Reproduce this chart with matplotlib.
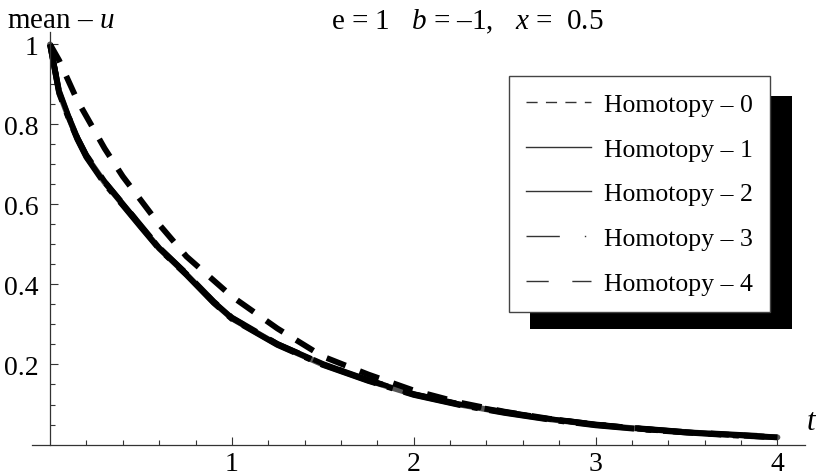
import matplotlib
matplotlib.use("Agg")
import matplotlib.pyplot as plt
from matplotlib.lines import Line2D
from matplotlib.patches import Rectangle

plt.rcParams['font.family'] = ['Liberation Serif', 'DejaVu Serif']
plt.rcParams['mathtext.fontset'] = 'custom'
plt.rcParams['mathtext.rm'] = 'Liberation Serif'
plt.rcParams['mathtext.it'] = 'Liberation Serif:italic'

# values
t = [0, 0.05, 0.1, 0.15, 0.2, 0.3, 0.4, 0.5, 0.6, 0.75, 0.9, 1.0,
     1.25, 1.5, 1.75, 2.0, 2.25, 2.5, 2.75, 3.0, 3.25, 3.5, 3.75, 4.0]
h0 = [1.0, 0.96, 0.91, 0.86, 0.82, 0.74, 0.67, 0.61, 0.55, 0.47, 0.41, 0.37,
      0.29, 0.22, 0.175, 0.135, 0.105, 0.082, 0.064, 0.05, 0.039, 0.03, 0.024, 0.018]
h1 = [1.0, 0.88, 0.82, 0.765, 0.72, 0.655, 0.6, 0.545, 0.49, 0.425, 0.355, 0.315,
      0.25, 0.2, 0.16, 0.125, 0.1, 0.08, 0.063, 0.049, 0.039, 0.031, 0.024, 0.018]
h2 = [1.0, 0.885, 0.823, 0.768, 0.724, 0.658, 0.603, 0.548, 0.493, 0.428, 0.358, 0.318,
      0.252, 0.202, 0.161, 0.126, 0.101, 0.081, 0.064, 0.05, 0.04, 0.031, 0.024, 0.018]
h3 = [1.0, 0.878, 0.818, 0.763, 0.718, 0.652, 0.598, 0.543, 0.489, 0.424, 0.354, 0.314,
      0.249, 0.199, 0.159, 0.124, 0.099, 0.079, 0.062, 0.048, 0.038, 0.03, 0.023, 0.018]
h4 = [1.0, 0.882, 0.821, 0.766, 0.721, 0.656, 0.601, 0.546, 0.491, 0.426, 0.356, 0.316,
      0.251, 0.201, 0.161, 0.126, 0.101, 0.081, 0.064, 0.05, 0.04, 0.031, 0.025, 0.019]
labels = ["Homotopy – 0", "Homotopy – 1", "Homotopy – 2", "Homotopy – 3", "Homotopy – 4"]

fig = plt.figure(figsize=(8.17, 4.77), dpi=100)
ax = fig.add_axes([0.039, 0.066, 0.946, 0.864])

ax.plot(t, h1, color='#555555', lw=4.2, solid_capstyle='round')
ax.plot(t, h2, color='black', lw=3.8, dashes=(6, 3))
ax.plot(t, h3, color='black', lw=4.2, dashes=(10, 2, 1, 2))
ax.plot(t, h4, color='black', lw=4.2, dashes=(8, 5))
ax.plot(t, h0, color='black', lw=4.2, dashes=(3.5, 2.6))

ax.set_xlim(-0.1, 4.15)
ax.set_ylim(0, 1.03)
ax.spines['left'].set_position(('data', 0))
ax.spines['bottom'].set_position(('data', 0))
ax.spines['top'].set_visible(False)
ax.spines['right'].set_visible(False)
for s in ('left', 'bottom'):
    ax.spines[s].set_color('#333333')
    ax.spines[s].set_linewidth(0.9)
ax.spines['left'].set_bounds(0, 1.03)

ax.set_xticks([1, 2, 3, 4])
ax.set_xticks([x / 5 for x in range(1, 21) if x % 5], minor=True)
ax.set_yticks([0.2, 0.4, 0.6, 0.8, 1.0])
ax.set_yticklabels(["0.2", "0.4", "0.6", "0.8", "1"])
ax.set_yticks([y / 20 for y in range(1, 21) if y % 4], minor=True)
ax.tick_params(which='both', direction='in', color='#333333', width=0.8)
ax.tick_params(which='major', length=6, labelsize=20)
ax.tick_params(which='minor', length=3.5)
ax.tick_params(axis='x', pad=5)
ax.tick_params(axis='y', pad=8)

fig.text(0.008, 0.955, r"mean – $u$", fontsize=21, va='center', ha='left')
fig.text(0.405, 0.955, r"e = 1   $b$ = –1,   $x$ =  0.5", fontsize=21, va='center', ha='left')
fig.text(1.0, 0.115, r"$t$", fontsize=22, va='center', ha='right')

handles = [
    Line2D([], [], color='#333333', lw=1, dashes=(8, 6)),
    Line2D([], [], color='#333333', lw=1),
    Line2D([], [], color='#333333', lw=1),
    Line2D([], [], color='#333333', lw=1, dashes=(24, 18, 1, 10)),
    Line2D([], [], color='#333333', lw=1, dashes=(16, 17)),
]
leg = fig.legend(handles, labels, loc='upper left', bbox_to_anchor=(0.623, 0.839),
                 borderaxespad=0, fontsize=18.5, frameon=True, fancybox=False,
                 framealpha=1, handlelength=2.5, handletextpad=0.5,
                 labelspacing=0.84, borderpad=0.68)
leg.get_frame().set_edgecolor('#444444')
leg.get_frame().set_linewidth(1.0)
leg.get_frame().set_facecolor('white')
leg.set_zorder(5)

fig.patches.append(Rectangle((0.649, 0.308), 0.32, 0.489, transform=fig.transFigure,
                             facecolor='black', edgecolor='none', zorder=4))

fig.savefig("out.png", dpi=100)
